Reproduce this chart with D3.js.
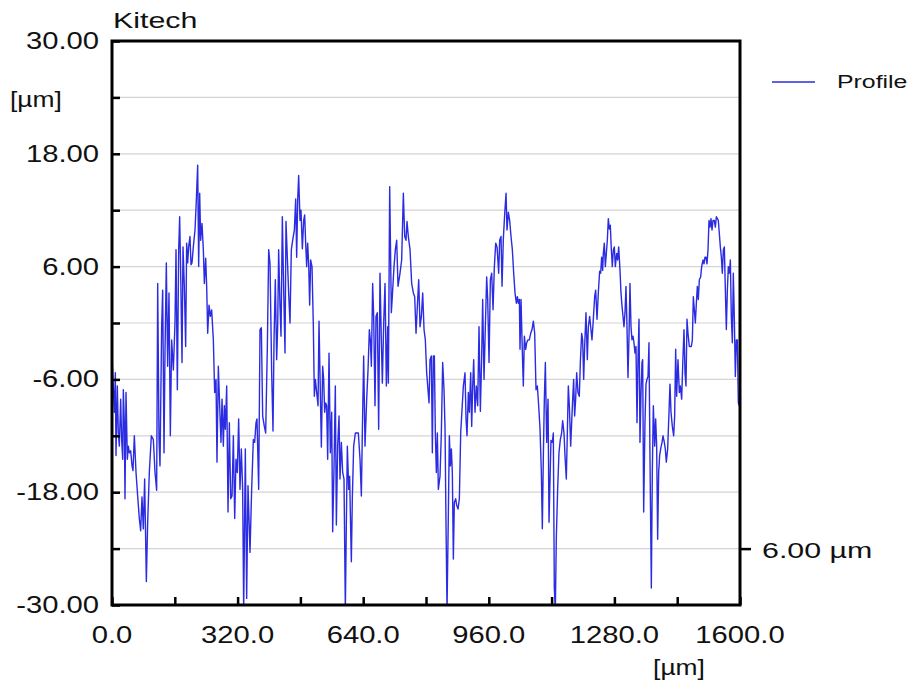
<!DOCTYPE html>
<html>
<head>
<meta charset="utf-8">
<script src="https://cdn.jsdelivr.net/npm/d3@7/dist/d3.min.js"></script>
<style>
  html, body { margin: 0; padding: 0; background: #fff; }
  svg { display: block; }
  text { font-family: "Liberation Sans", Arial, sans-serif; fill: #111; }
</style>
</head>
<body>
<svg id="chart" width="914" height="687"></svg>
<script>
// Surface profile: position along the trace [µm] and height [µm]
const positions = [
  0, 6, 8.5, 10.2, 13.6, 16.1, 18.7, 22.1, 24.6, 27.2, 28.9, 31.4, 33.1, 35.7, 39.1, 41.6, 44.2, 47.6, 51, 53.5,
  56.9, 61.2, 65.4, 69.6, 73, 76.4, 79.8, 83.2, 87.5, 90.9, 95.1, 100.2, 105.3, 109.6, 113.8, 116.4, 119.8, 122.3, 126.5, 129.1,
  132.5, 135, 138.4, 141.8, 145.2, 148.6, 152, 156.3, 160.5, 163.1, 166.5, 169.9, 172.4, 175, 178.4, 180.9, 184.3, 187.7, 190.2, 192.8,
  195.3, 198.7, 201.3, 203.8, 207.2, 211.5, 214.9, 218.3, 220.8, 223.4, 225.9, 229.3, 232.7, 235.3, 238.7, 241.2, 243.8, 247.2, 250.5, 253.9,
  258.2, 261.6, 265, 267.5, 270.9, 274.3, 277.7, 280.3, 283.7, 286.2, 288.8, 292.2, 295.6, 299, 302.4, 305.8, 309.2, 312.6, 315.9, 319.3,
  322.7, 326.1, 329.5, 332.9, 335.5, 339.7, 343.1, 346.5, 351.6, 355.8, 360.1, 363.5, 366.9, 369.4, 373.7, 377.1, 380.5, 383.9, 388.1, 391.5,
  395.8, 399.2, 402.6, 406.8, 410.2, 412.8, 416.1, 419.5, 422.1, 424.6, 428, 430.6, 434, 437.4, 440.8, 443.3, 446.7, 450.1, 453.5, 456.9,
  460.3, 464.6, 468, 470.5, 473.1, 475.6, 479, 481.5, 485, 488.3, 490.9, 493.4, 496, 498.5, 501.1, 503.6, 506.2, 509.6, 513, 515.5,
  518.1, 521.5, 524.9, 527.4, 530.8, 533.4, 536.7, 539.3, 541.8, 544.4, 546.9, 549.5, 552.9, 556.3, 559.7, 562.2, 565.6, 569, 571.6, 575,
  578.4, 580.9, 584.3, 587.7, 591.1, 594.5, 597.1, 599.6, 603, 605.5, 607.2, 609.8, 612.3, 615.7, 620, 623.4, 627.6, 631.9, 635.3, 637.8,
  641.2, 644.6, 648.9, 652.3, 655.7, 658.2, 660.8, 664.1, 666.7, 670.1, 672.6, 676, 679.4, 682.8, 686.2, 688.8, 692.2, 695.6, 699, 702.4,
  704.1, 707.5, 711.7, 715.1, 718.5, 721.9, 725.3, 728.7, 733.8, 738, 742.3, 745.7, 749.1, 751.6, 755, 759.3, 763.5, 767.8, 771.2, 774.6,
  778, 781.4, 784.8, 788.2, 791.6, 795, 798.3, 801.7, 805.1, 807.7, 810.2, 813.6, 816.2, 818.7, 821.3, 823.8, 826.4, 828.9, 831.5, 835.7,
  839.1, 842.5, 845.9, 848.5, 851, 853.6, 857, 859.5, 862.1, 864.6, 867.1, 869.7, 872.2, 875.6, 878.2, 881.6, 885, 888.4, 891.8, 895.2,
  899.4, 902, 904.5, 907.9, 910.5, 913.9, 916.4, 919, 921.5, 924.9, 928.3, 931.7, 935.1, 938.5, 941.9, 944.4, 947.8, 951.2, 954.6, 957.2,
  960.6, 964, 967.4, 970.8, 974.2, 977.6, 981, 985.2, 987.7, 991.1, 993.7, 997.1, 1000.5, 1003.9, 1006.4, 1009.8, 1013.2, 1016.6, 1020, 1023.4,
  1026.8, 1030.2, 1032.8, 1035.3, 1037.9, 1039.5, 1042.1, 1045.5, 1048, 1050.6, 1054, 1056.5, 1059.9, 1063.3, 1066.7, 1070.1, 1073.5, 1076.9, 1080.3, 1083.7,
  1087.1, 1090.5, 1093.9, 1096.4, 1099, 1101.5, 1104.1, 1107.5, 1110.9, 1113.4, 1118.4, 1121.8, 1124.4, 1126.9, 1129.5, 1132, 1135.4, 1138.8, 1142.2, 1145.6,
  1148.2, 1151.6, 1154.1, 1157.5, 1160.1, 1162.6, 1165.2, 1168.6, 1171.1, 1173.7, 1176.2, 1178.7, 1181.3, 1183.9, 1187.2, 1190.6, 1193.2, 1196.6, 1199.1, 1201.7,
  1204.2, 1207.6, 1211, 1213.6, 1217, 1219.5, 1222.9, 1226.3, 1229.7, 1232.3, 1235.7, 1239, 1242.4, 1245, 1247.5, 1250.1, 1251.8, 1254.3, 1256.9, 1259.4,
  1262, 1264.5, 1267.1, 1269.6, 1272.2, 1274.7, 1277.3, 1279.8, 1282.4, 1285.8, 1288.3, 1290.9, 1294.3, 1296.8, 1299.4, 1301.9, 1304.4, 1307, 1309.5, 1312.1,
  1314.6, 1317.2, 1319.7, 1322.3, 1324.8, 1327.4, 1329.9, 1332.5, 1335, 1337.6, 1340.1, 1342.7, 1345.2, 1347.8, 1350.3, 1352, 1354.6, 1357.9, 1360.5, 1363,
  1365.6, 1368.1, 1370.7, 1374.1, 1376.6, 1379.2, 1382.6, 1385.1, 1387.7, 1390.2, 1392.8, 1395.3, 1397.9, 1401.3, 1403.8, 1407.2, 1409.7, 1412.3, 1415.7, 1419.1,
  1421.6, 1424.2, 1427.6, 1431, 1433.5, 1436.1, 1438.6, 1442, 1445.4, 1448, 1451.4, 1453.9, 1457.3, 1459.9, 1462.4, 1465, 1467.5, 1470.9, 1473.5, 1476,
  1478.6, 1481.1, 1483.7, 1486.2, 1488.8, 1491.3, 1493.8, 1496.4, 1499.8, 1502.3, 1505.7, 1508.3, 1510.8, 1513.4, 1515.9, 1518.5, 1521, 1523.6, 1526.1, 1528.7,
  1531.2, 1534.6, 1537.2, 1539.7, 1542.3, 1544.8, 1547.4, 1549.9, 1552.5, 1555, 1557.6, 1560.1, 1562.7, 1565.2, 1567.8, 1570.3, 1572.8, 1575.4, 1577.9, 1580.5,
  1583, 1585.6, 1588.1, 1590.7, 1593.2, 1595.8, 1598.3, 1600
];
const heights = [
  -3.5, -9.5, -5.3, -14.1, -6.7, -11.7, -13.1, -8.1, -12.4, -14.5, -7.1, -10.6, -18.7, -7.4, -14.5, -13.1, -13.8, -13.6, -15.2, -15.7,
  -12.0, -15.9, -18.4, -20.8, -22.1, -18.5, -21.9, -16.6, -27.5, -21.2, -15.9, -12.0, -12.4, -15.9, -17.8, 4.2, -12.4, -15.2, -0.4, 3.5,
  -13.8, -3.2, 6.4, -4.6, 3.2, -12.0, -1.8, -5.0, 0.0, 7.8, -7.1, 7.8, 11.3, 5.3, -4.2, 8.1, 3.9, -2.5, 8.5, 6.4,
  8.1, 9.2, 6.2, 6.4, 8.1, 9.9, 13.1, 16.8, 6.0, 13.8, 8.8, 10.6, 7.8, 4.2, 6.9, 3.9, -1.1, 1.9, 0.7, 1.4,
  -1.8, -7.4, -6.0, -14.8, -4.6, -8.8, -12.7, -8.1, -13.1, -8.8, -11.3, -6.7, -20.1, -10.6, -18.7, -18.4, -12.0, -20.8, -14.5, -15.9,
  -10.2, -17.7, -13.4, -17.7, -30.5, -13.4, -29.3, -17.3, -24.4, -17.7, -12.4, -12.7, -10.6, -10.2, -17.7, -0.7, -0.5, -9.9, -11.0, -11.7,
  -2.5, 7.8, 6.3, -5.3, -11.5, -1.8, 4.6, -3.9, -0.4, 7.8, 1.8, -1.4, 11.3, 3.5, -3.2, 10.8, 7.0, 3.2, 0.0, 7.8,
  8.8, 9.9, 13.2, 7.0, 13.1, 15.7, 10.9, 12.0, 7.9, 10.9, 11.5, 8.5, 6.0, 8.5, 6.3, 1.9, 6.7, 6.0, -0.4, -7.8,
  -6.0, -7.4, -8.8, 0.2, -7.4, -13.2, -4.6, -6.0, -9.5, -8.5, -8.8, -14.5, -3.2, -13.8, -9.5, -22.2, -15.5, -6.7, -21.5, -13.1,
  -9.9, -16.6, -12.7, -15.9, -16.6, -30.5, -21.2, -13.1, -17.7, -16.3, -20.1, -25.4, -18.7, -13.1, -11.7, -11.7, -11.7, -14.5, -18.4, -11.7,
  -3.5, -13.1, -8.1, -5.0, -0.7, -1.8, -4.6, 4.2, 0.7, -8.8, 0.7, 1.1, -11.3, 5.3, -1.8, -6.4, 0.0, 4.2, -6.7, -0.4,
  -6.4, 14.5, 1.1, 3.5, 6.0, 7.8, 8.8, 3.9, 5.3, 6.7, 13.8, 9.2, 8.8, 10.8, 9.2, 7.8, 4.2, 3.2, 2.8, -1.1,
  1.8, 4.6, -0.4, 0.7, 3.2, -0.7, -1.8, -5.3, -7.1, -8.5, -3.9, -3.5, -13.8, -3.5, -3.5, -11.7, -15.9, -11.7, -17.7, -16.3,
  -11.7, -4.2, -7.1, -11.3, -21.5, -30.5, -20.1, -12.0, -15.2, -13.4, -15.9, -25.1, -19.1, -18.7, -19.4, -19.8, -18.7, -11.7, -9.2, -6.7,
  -5.3, -10.2, -12.0, -7.4, -9.5, -5.3, -11.0, -6.7, -3.9, -9.5, -6.7, -8.8, -0.4, -9.4, -3.5, 2.5, -6.0, -0.4, 4.9, 2.5,
  -4.2, 4.6, 5.3, 1.4, 6.0, 8.5, 8.1, 5.3, 8.8, 9.2, 3.9, 9.0, 11.6, 13.8, 9.9, 11.8, 10.9, 9.2, 7.8, 5.3,
  3.2, 2.1, 2.8, 2.1, 2.5, -2.8, 2.5, -3.2, -6.7, -1.4, -2.8, -2.1, -1.8, -1.8, -1.1, -0.7, 0.2, -1.1, -7.1, -6.7,
  -8.8, -11.3, -15.9, -21.9, -14.1, -8.1, -4.2, -12.7, -8.1, -21.2, -12.5, -12.7, -11.7, -28.2, -30.5, -22.9, -17.7, -13.8, -12.4, -11.7,
  -10.4, -11.7, -14.1, -16.6, -11.7, -6.7, -8.8, -13.1, -10.6, -8.1, -6.0, -9.9, -8.1, -5.3, -7.4, -7.8, -4.2, -1.1, -1.8, -6.0,
  -2.5, 1.1, -3.9, -0.4, 0.7, -0.4, -1.8, 0.4, 2.8, 3.5, 0.4, 3.2, 5.5, 5.3, 7.0, 5.6, 7.4, 8.5, 6.0, 7.4,
  8.8, 11.1, 10.0, 10.4, 7.8, 6.0, 7.8, 8.1, 6.0, 7.4, 6.7, 8.1, 5.6, 3.2, 1.8, 0.7, -0.4, 1.1, 3.9, -0.4,
  -5.8, -1.4, 4.2, -0.4, -1.8, -1.4, -2.1, -3.2, -2.5, -10.6, -3.9, 0.4, -12.7, -7.4, -4.2, -3.9, -20.1, -10.6, -6.5, -6.0,
  -5.7, -2.1, -14.5, -28.2, -15.9, -8.8, -13.1, -10.2, -13.1, -23.0, -15.9, -14.1, -13.4, -12.7, -12.0, -12.7, -13.4, -14.8, -13.4, -9.5,
  -6.5, -9.5, -11.0, -12.0, -9.9, -2.8, -7.8, -3.9, -7.4, -6.7, -8.1, -4.6, -0.7, -5.3, -6.7, 0.4, -1.1, -2.5, -2.5, -2.5,
  -1.8, 2.8, 1.4, 0.0, 2.1, 3.9, 2.5, 4.6, 4.9, 6.0, 6.7, 6.3, 7.0, 7.0, 6.3, 7.8, 10.9, 10.2, 11.1, 9.9,
  10.9, 10.9, 10.2, 11.3, 11.1, 10.9, 9.5, 8.1, 7.0, 5.3, 7.8, 8.1, 3.5, -0.7, 3.5, 6.0, 5.3, 6.7, 0.7, -2.1,
  5.3, 0.4, -5.7, -1.8, -1.8, -8.5, -8.8, -9.0
];

// Axis ticks and labels
const yTickValues = [-30, -24, -18, -12, -6, 0, 6, 12, 18, 24, 30];
const yLabelValues = [-30, -18, -6, 6, 18, 30];
const xTickValues = [0, 160, 320, 480, 640, 800, 960, 1120, 1280, 1440, 1600];
const xLabelValues = [0, 320, 640, 960, 1280, 1600];
const chartTitle = "Kitech";
const unitLabel = "[µm]";
const seriesName = "Profile";
const scaleBarText = "6.00 µm";
const scaleBarValue = -24;

const svg = d3.select("#chart");
const plot = { left: 112, right: 740, top: 41, bottom: 605 };

const x = d3.scaleLinear().domain([0, 1600]).range([plot.left, plot.right]);
const y = d3.scaleLinear().domain([-30, 30]).range([plot.bottom, plot.top]);

// Plain hyphen for negative numbers
const fmtY = v => d3.format(".2f")(v).replace("\u2212", "-");
const fmtX = v => d3.format(".1f")(v).replace("\u2212", "-");

// Text helper: glyphs are drawn a little wider than the stock face
function label(px, py, str, anchor, size, stretch) {
  const t = svg.append("text")
    .attr("x", px).attr("y", py)
    .attr("font-size", size)
    .attr("text-anchor", anchor)
    .text(str);
  const w = t.node().getComputedTextLength();
  t.attr("textLength", w * stretch).attr("lengthAdjust", "spacingAndGlyphs");
  return t;
}

// Horizontal grid lines
svg.append("g")
  .selectAll("line")
  .data(yTickValues)
  .join("line")
  .attr("x1", plot.left).attr("x2", plot.right)
  .attr("y1", d => y(d)).attr("y2", d => y(d))
  .attr("stroke", "#d4d4d4").attr("stroke-width", 1.2);

// Profile trace
const data = positions.map((p, i) => ({ p, h: heights[i] }));
svg.append("clipPath").attr("id", "plot-clip")
  .append("rect")
  .attr("x", plot.left).attr("y", plot.top)
  .attr("width", plot.right - plot.left).attr("height", plot.bottom - plot.top);

svg.append("path")
  .datum(data)
  .attr("clip-path", "url(#plot-clip)")
  .attr("fill", "none")
  .attr("stroke", "#2b2be2")
  .attr("stroke-width", 1.4)
  .attr("stroke-linejoin", "round")
  .attr("d", d3.line().x(d => x(d.p)).y(d => y(d.h)));

// Left axis with inward ticks
svg.append("g")
  .attr("transform", `translate(${plot.left},0)`)
  .call(d3.axisRight(y).tickValues(yTickValues).tickSize(8).tickFormat(""))
  .call(g => g.select(".domain").remove())
  .call(g => g.selectAll("line").attr("stroke", "#000").attr("stroke-width", 2.5));

// Bottom axis with inward ticks
svg.append("g")
  .attr("transform", `translate(0,${plot.bottom})`)
  .call(d3.axisTop(x).tickValues(xTickValues).tickSize(8).tickFormat(""))
  .call(g => g.select(".domain").remove())
  .call(g => g.selectAll("line").attr("stroke", "#000").attr("stroke-width", 2.5));

// Right axis carrying the scale-bar tick
svg.append("g")
  .attr("transform", `translate(${plot.right},0)`)
  .call(d3.axisRight(y).tickValues([scaleBarValue]).tickSize(11).tickFormat(""))
  .call(g => g.select(".domain").remove())
  .call(g => g.selectAll("line").attr("stroke", "#000").attr("stroke-width", 2.5));

// Frame
svg.append("rect")
  .attr("x", plot.left).attr("y", plot.top)
  .attr("width", plot.right - plot.left).attr("height", plot.bottom - plot.top)
  .attr("fill", "none").attr("stroke", "#000").attr("stroke-width", 3);

// Y tick labels
yLabelValues.forEach(v => {
  label(99, y(v) + 8, fmtY(v), "end", 23, 1.27);
});
label(10, 107, unitLabel, "start", 22, 1.2);

// X tick labels
xLabelValues.forEach(v => {
  label(x(v), 643, fmtX(v), "middle", 23, 1.27);
});
label(679, 675, unitLabel, "middle", 22, 1.2);

// Title
label(113, 28, chartTitle, "start", 22, 1.38);

// Scale bar label
label(762, 558, scaleBarText, "start", 22, 1.38);

// Legend
svg.append("line")
  .attr("x1", 772).attr("x2", 815).attr("y1", 82).attr("y2", 82)
  .attr("stroke", "#2b2be2").attr("stroke-width", 1.4);
label(837, 88, seriesName, "start", 18, 1.38);
</script>
</body>
</html>
